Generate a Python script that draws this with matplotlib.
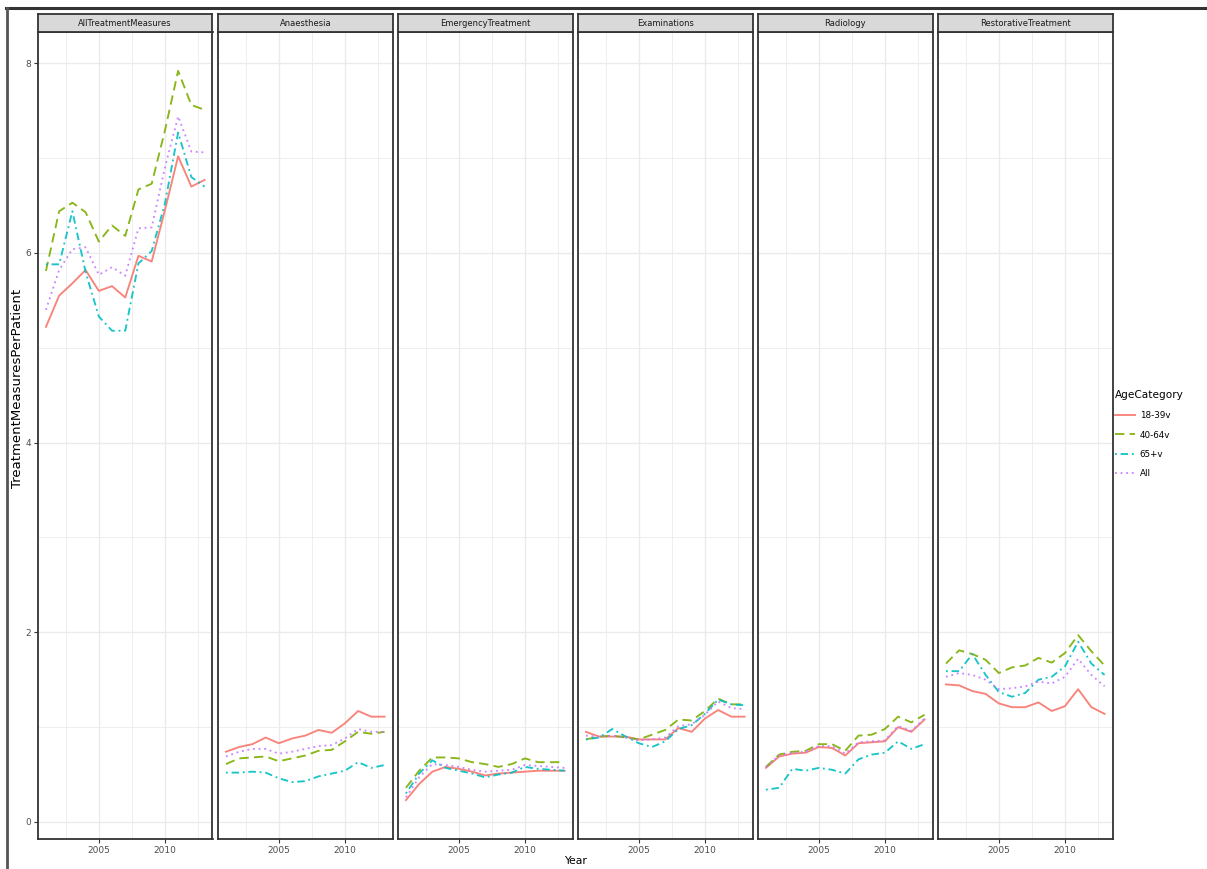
import matplotlib
matplotlib.use("Agg")
import matplotlib.pyplot as plt
from matplotlib.lines import Line2D
from matplotlib.ticker import MultipleLocator

years = list(range(2001, 2014))
age_groups = ["18-39v", "40-64v", "65+v", "All"]
measures = ["AllTreatmentMeasures", "Anaesthesia", "EmergencyTreatment",
            "Examinations", "Radiology", "RestorativeTreatment"]

all_treatment = {
    "18-39v": [5.22, 5.55, 5.68, 5.82, 5.60, 5.65, 5.53, 5.97, 5.91, 6.45, 7.02, 6.70, 6.77],
    "40-64v": [5.81, 6.44, 6.53, 6.43, 6.12, 6.29, 6.18, 6.67, 6.73, 7.29, 7.92, 7.56, 7.51],
    "65+v":   [5.88, 5.88, 6.44, 5.80, 5.33, 5.18, 5.18, 5.89, 6.02, 6.52, 7.27, 6.80, 6.70],
    "All":    [5.40, 5.82, 6.04, 6.06, 5.77, 5.85, 5.76, 6.26, 6.27, 6.90, 7.44, 7.07, 7.06],
}
anaesthesia = {
    "18-39v": [0.74, 0.79, 0.82, 0.89, 0.83, 0.88, 0.91, 0.97, 0.94, 1.04, 1.17, 1.11, 1.11],
    "40-64v": [0.61, 0.67, 0.68, 0.69, 0.64, 0.67, 0.70, 0.75, 0.76, 0.85, 0.95, 0.93, 0.95],
    "65+v":   [0.52, 0.52, 0.53, 0.52, 0.46, 0.42, 0.43, 0.48, 0.51, 0.54, 0.63, 0.57, 0.60],
    "All":    [0.69, 0.74, 0.77, 0.77, 0.72, 0.74, 0.77, 0.80, 0.81, 0.88, 0.98, 0.95, 0.95],
}
emergency = {
    "18-39v": [0.23, 0.40, 0.53, 0.58, 0.56, 0.53, 0.49, 0.51, 0.52, 0.53, 0.54, 0.54, 0.54],
    "40-64v": [0.36, 0.54, 0.68, 0.68, 0.67, 0.63, 0.61, 0.58, 0.61, 0.67, 0.63, 0.63, 0.63],
    "65+v":   [0.30, 0.51, 0.65, 0.57, 0.54, 0.51, 0.47, 0.50, 0.52, 0.58, 0.56, 0.55, 0.54],
    "All":    [0.26, 0.47, 0.61, 0.60, 0.58, 0.55, 0.53, 0.54, 0.55, 0.60, 0.59, 0.58, 0.57],
}
examinations = {
    "18-39v": [0.95, 0.90, 0.90, 0.90, 0.87, 0.87, 0.87, 0.99, 0.95, 1.09, 1.18, 1.11, 1.11],
    "40-64v": [0.87, 0.90, 0.91, 0.89, 0.87, 0.92, 0.97, 1.08, 1.07, 1.17, 1.30, 1.24, 1.24],
    "65+v":   [0.87, 0.89, 0.98, 0.90, 0.83, 0.79, 0.85, 0.98, 1.02, 1.14, 1.29, 1.24, 1.23],
    "All":    [0.91, 0.90, 0.91, 0.89, 0.86, 0.87, 0.89, 1.01, 1.03, 1.13, 1.27, 1.20, 1.19],
}
radiology = {
    "18-39v": [0.57, 0.69, 0.72, 0.73, 0.79, 0.78, 0.70, 0.83, 0.84, 0.85, 1.00, 0.95, 1.08],
    "40-64v": [0.58, 0.71, 0.74, 0.75, 0.82, 0.82, 0.75, 0.91, 0.92, 0.98, 1.11, 1.05, 1.13],
    "65+v":   [0.34, 0.36, 0.56, 0.54, 0.57, 0.55, 0.51, 0.66, 0.71, 0.73, 0.85, 0.77, 0.82],
    "All":    [0.58, 0.70, 0.73, 0.74, 0.80, 0.80, 0.72, 0.84, 0.85, 0.86, 1.01, 0.96, 1.09],
}
restorative = {
    "18-39v": [1.45, 1.44, 1.38, 1.35, 1.25, 1.21, 1.21, 1.26, 1.17, 1.22, 1.40, 1.21, 1.14],
    "40-64v": [1.67, 1.81, 1.77, 1.71, 1.57, 1.63, 1.65, 1.73, 1.68, 1.78, 1.97, 1.80, 1.65],
    "65+v":   [1.59, 1.59, 1.77, 1.55, 1.37, 1.32, 1.36, 1.50, 1.53, 1.64, 1.90, 1.67, 1.55],
    "All":    [1.53, 1.57, 1.55, 1.50, 1.40, 1.41, 1.43, 1.48, 1.46, 1.53, 1.72, 1.55, 1.43],
}
panel_data = [all_treatment, anaesthesia, emergency, examinations, radiology, restorative]

colores = {"18-39v": "#F8766D", "40-64v": "#7CAE00", "65+v": "#00BFC4", "All": "#C77CFF"}
estilos = {"18-39v": "-", "40-64v": (0, (5, 2.8)), "65+v": (0, (1, 2, 4, 2)), "All": (0, (1, 2))}

W, H = 1207, 869
fig = plt.figure(figsize=(W / 100, H / 100), dpi=100)

def px_box(x0, y0, x1, y1):
    return [x0 / W, 1 - y1 / H, (x1 - x0) / W, (y1 - y0) / H]

izq, ancho, hueco = 38, 174.5, 5.5
top, bottom, strip_top = 32, 839, 14
borde = "#333333"

for i, (nombre, datos) in enumerate(zip(measures, panel_data)):
    x0 = izq + i * (ancho + hueco)
    ax = fig.add_axes(px_box(x0, top, x0 + ancho, bottom))
    for g in age_groups:
        ax.plot(years, datos[g], color=colores[g], linestyle=estilos[g], lw=1.35,
                alpha=0.9, label=g)
    ax.set_xlim(2000.4, 2013.6)
    ax.set_ylim(-0.18, 8.33)
    ax.set_xticks([2005, 2010])
    ax.xaxis.set_minor_locator(MultipleLocator(2.5))
    ax.set_yticks([0, 2, 4, 6, 8])
    ax.yaxis.set_minor_locator(MultipleLocator(1))
    ax.grid(True, which="major", color="#EBEBEB", lw=1.0)
    ax.grid(True, which="minor", color="#EBEBEB", lw=0.6)
    ax.set_axisbelow(True)
    ax.tick_params(which="minor", length=0)
    ax.tick_params(which="major", length=3, width=0.8, color=borde, labelsize=6.5,
                   labelcolor="#4D4D4D", pad=2)
    if i > 0:
        ax.tick_params(axis="y", left=False, labelleft=False)
    for s in ax.spines.values():
        s.set_color(borde)
        s.set_linewidth(1.3)

    sax = fig.add_axes(px_box(x0, strip_top, x0 + ancho, top))
    sax.set_facecolor("#D9D9D9")
    sax.set_xticks([])
    sax.set_yticks([])
    for s in sax.spines.values():
        s.set_color(borde)
        s.set_linewidth(1.3)
    sax.text(0.5, 0.5, nombre, ha="center", va="center", fontsize=6, color="#1A1A1A",
             transform=sax.transAxes)

    if i == 0:
        handles = ax.get_lines()

fig.text(18 / W, 1 - 388 / H, "TreatmentMeasuresPerPatient", rotation=90,
         ha="center", va="center", fontsize=9.5, color="black")
fig.text(575 / W, 1 - 861 / H, "Year", ha="center", va="center", fontsize=7.8, color="black")

leg = fig.legend(handles, age_groups, loc="upper left",
                 bbox_to_anchor=(1111 / W, 1 - 387 / H), frameon=False,
                 fontsize=6.3, title="AgeCategory", title_fontsize=7.6,
                 alignment="left", handlelength=2.3, labelspacing=1.2,
                 handletextpad=0.6, borderaxespad=0)

# bordes de la captura
fig.add_artist(Line2D([6 / W, 1], [1 - 8 / H, 1 - 8 / H], color="#333333", lw=2.2))
fig.add_artist(Line2D([7 / W, 7 / W], [0, 1 - 8 / H], color="#555555", lw=2.0))

fig.savefig("out.png", dpi=100)
